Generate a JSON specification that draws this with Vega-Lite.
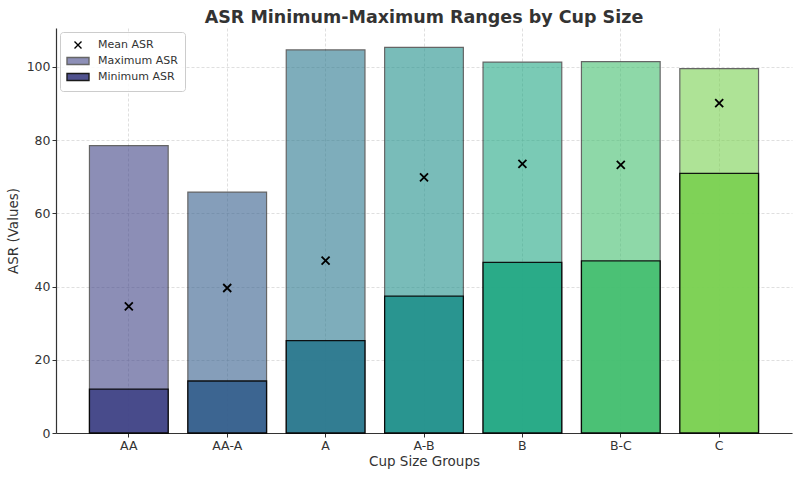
{
  "$schema": "https://vega.github.io/schema/vega-lite/v6.json",
  "autosize": {"type": "none"},
  "width": 736,
  "height": 405,
  "padding": {"left": 56, "top": 28, "right": 8, "bottom": 44},
  "background": "white",
  "title": {"text": "ASR Minimum-Maximum Ranges by Cup Size", "fontSize": 17.5, "fontWeight": "bold", "color": "#333333", "font": "DejaVu Sans", "anchor": "middle", "offset": 2},
  "datasets": {
    "asr": [
      {"group": "AA", "min": 12.0, "max": 78.5, "mean": 34.6},
      {"group": "AA-A", "min": 14.2, "max": 65.8, "mean": 39.6},
      {"group": "A", "min": 25.2, "max": 104.6, "mean": 47.1},
      {"group": "A-B", "min": 37.4, "max": 105.3, "mean": 69.8},
      {"group": "B", "min": 46.6, "max": 101.3, "mean": 73.5},
      {"group": "B-C", "min": 47.0, "max": 101.4, "mean": 73.2},
      {"group": "C", "min": 70.9, "max": 99.5, "mean": 90.1}
    ],
    "legendItems": [
      {"item": "Mean ASR"},
      {"item": "Maximum ASR"},
      {"item": "Minimum ASR"}
    ]
  },
  "layer": [
    {
      "data": {"name": "asr"},
      "mark": {"type": "bar", "opacity": 0.6, "stroke": "black", "strokeWidth": 1.2},
      "encoding": {
        "x": {"field": "group", "type": "nominal", "sort": null,
              "scale": {"paddingInner": 0.2, "paddingOuter": 0.34},
              "axis": {"title": "Cup Size Groups"}},
        "y": {"field": "max", "type": "quantitative",
              "scale": {"domain": [0, 110.6], "nice": false},
              "axis": {"title": "ASR (Values)", "values": [0, 20, 40, 60, 80, 100]}},
        "color": {"field": "group", "type": "nominal", "sort": null,
                  "scale": {"domain": ["AA", "AA-A", "A", "A-B", "B", "B-C", "C"],
                            "range": ["#414487", "#355f8d", "#2a788e", "#21918c", "#22a884", "#44bf70", "#7ad151"]},
                  "legend": null}
      }
    },
    {
      "data": {"name": "asr"},
      "mark": {"type": "bar", "opacity": 0.9, "stroke": "black", "strokeWidth": 1.3},
      "encoding": {
        "x": {"field": "group", "type": "nominal", "sort": null},
        "y": {"field": "min", "type": "quantitative"},
        "color": {"field": "group", "type": "nominal", "sort": null, "legend": null}
      }
    },
    {
      "data": {"name": "asr"},
      "mark": {"type": "point", "filled": false, "stroke": "black", "strokeWidth": 1.8, "opacity": 1,
               "shape": "M-1,-1L1,1M1,-1L-1,1", "size": 64},
      "encoding": {
        "x": {"field": "group", "type": "nominal", "sort": null},
        "y": {"field": "mean", "type": "quantitative"}
      }
    },
    {
      "data": {"name": "legendItems"},
      "mark": {"type": "point", "opacity": 0},
      "encoding": {
        "shape": {"field": "item", "type": "nominal", "sort": null,
                  "scale": {"domain": ["Mean ASR", "Maximum ASR", "Minimum ASR"],
                            "range": ["M-0.7,-0.7L0.7,0.7M0.7,-0.7L-0.7,0.7", "M-2.2,-0.7H2.2V0.7H-2.2Z", "M-2.2,-0.7H2.2V0.7H-2.2Z"]},
                  "legend": {"title": null, "orient": "top-left", "offset": 4}},
        "fill": {"field": "item", "type": "nominal", "sort": null,
                 "scale": {"domain": ["Mean ASR", "Maximum ASR", "Minimum ASR"],
                           "range": ["transparent", "#8d8fb7", "#50528f"]},
                 "legend": {"title": null, "orient": "top-left", "offset": 4}},
        "stroke": {"field": "item", "type": "nominal", "sort": null,
                   "scale": {"domain": ["Mean ASR", "Maximum ASR", "Minimum ASR"],
                             "range": ["#000000", "#666666", "#1a1a1a"]},
                   "legend": {"title": null, "orient": "top-left", "offset": 4}}
      }
    }
  ],
  "config": {
    "font": "DejaVu Sans",
    "view": {"stroke": null},
    "axis": {
      "grid": true,
      "gridColor": "#cccccc",
      "gridDash": [3, 2],
      "gridWidth": 0.8,
      "gridOpacity": 0.8,
      "zindex": 1,
      "domainColor": "#333333",
      "domainWidth": 1.2,
      "tickColor": "#333333",
      "tickSize": 4,
      "tickWidth": 1,
      "labelColor": "#333333",
      "labelFontSize": 12.5,
      "labelPadding": 2,
      "titleColor": "#333333",
      "titleFontSize": 13.5,
      "titleFontWeight": "normal"
    },
    "axisX": {"labelAngle": 0, "titlePadding": 3},
    "axisY": {"titlePadding": 6, "domain": true},
    "legend": {
      "padding": 7,
      "strokeColor": "#cccccc",
      "fillColor": "rgba(255,255,255,0.85)",
      "cornerRadius": 3,
      "labelFontSize": 11,
      "labelColor": "#333333",
      "symbolSize": 100,
      "symbolStrokeWidth": 1.4,
      "symbolOpacity": 1,
      "symbolOffset": 5,
      "labelOffset": 14,
      "rowPadding": 2,
      "labelLimit": 200
    }
  }
}
